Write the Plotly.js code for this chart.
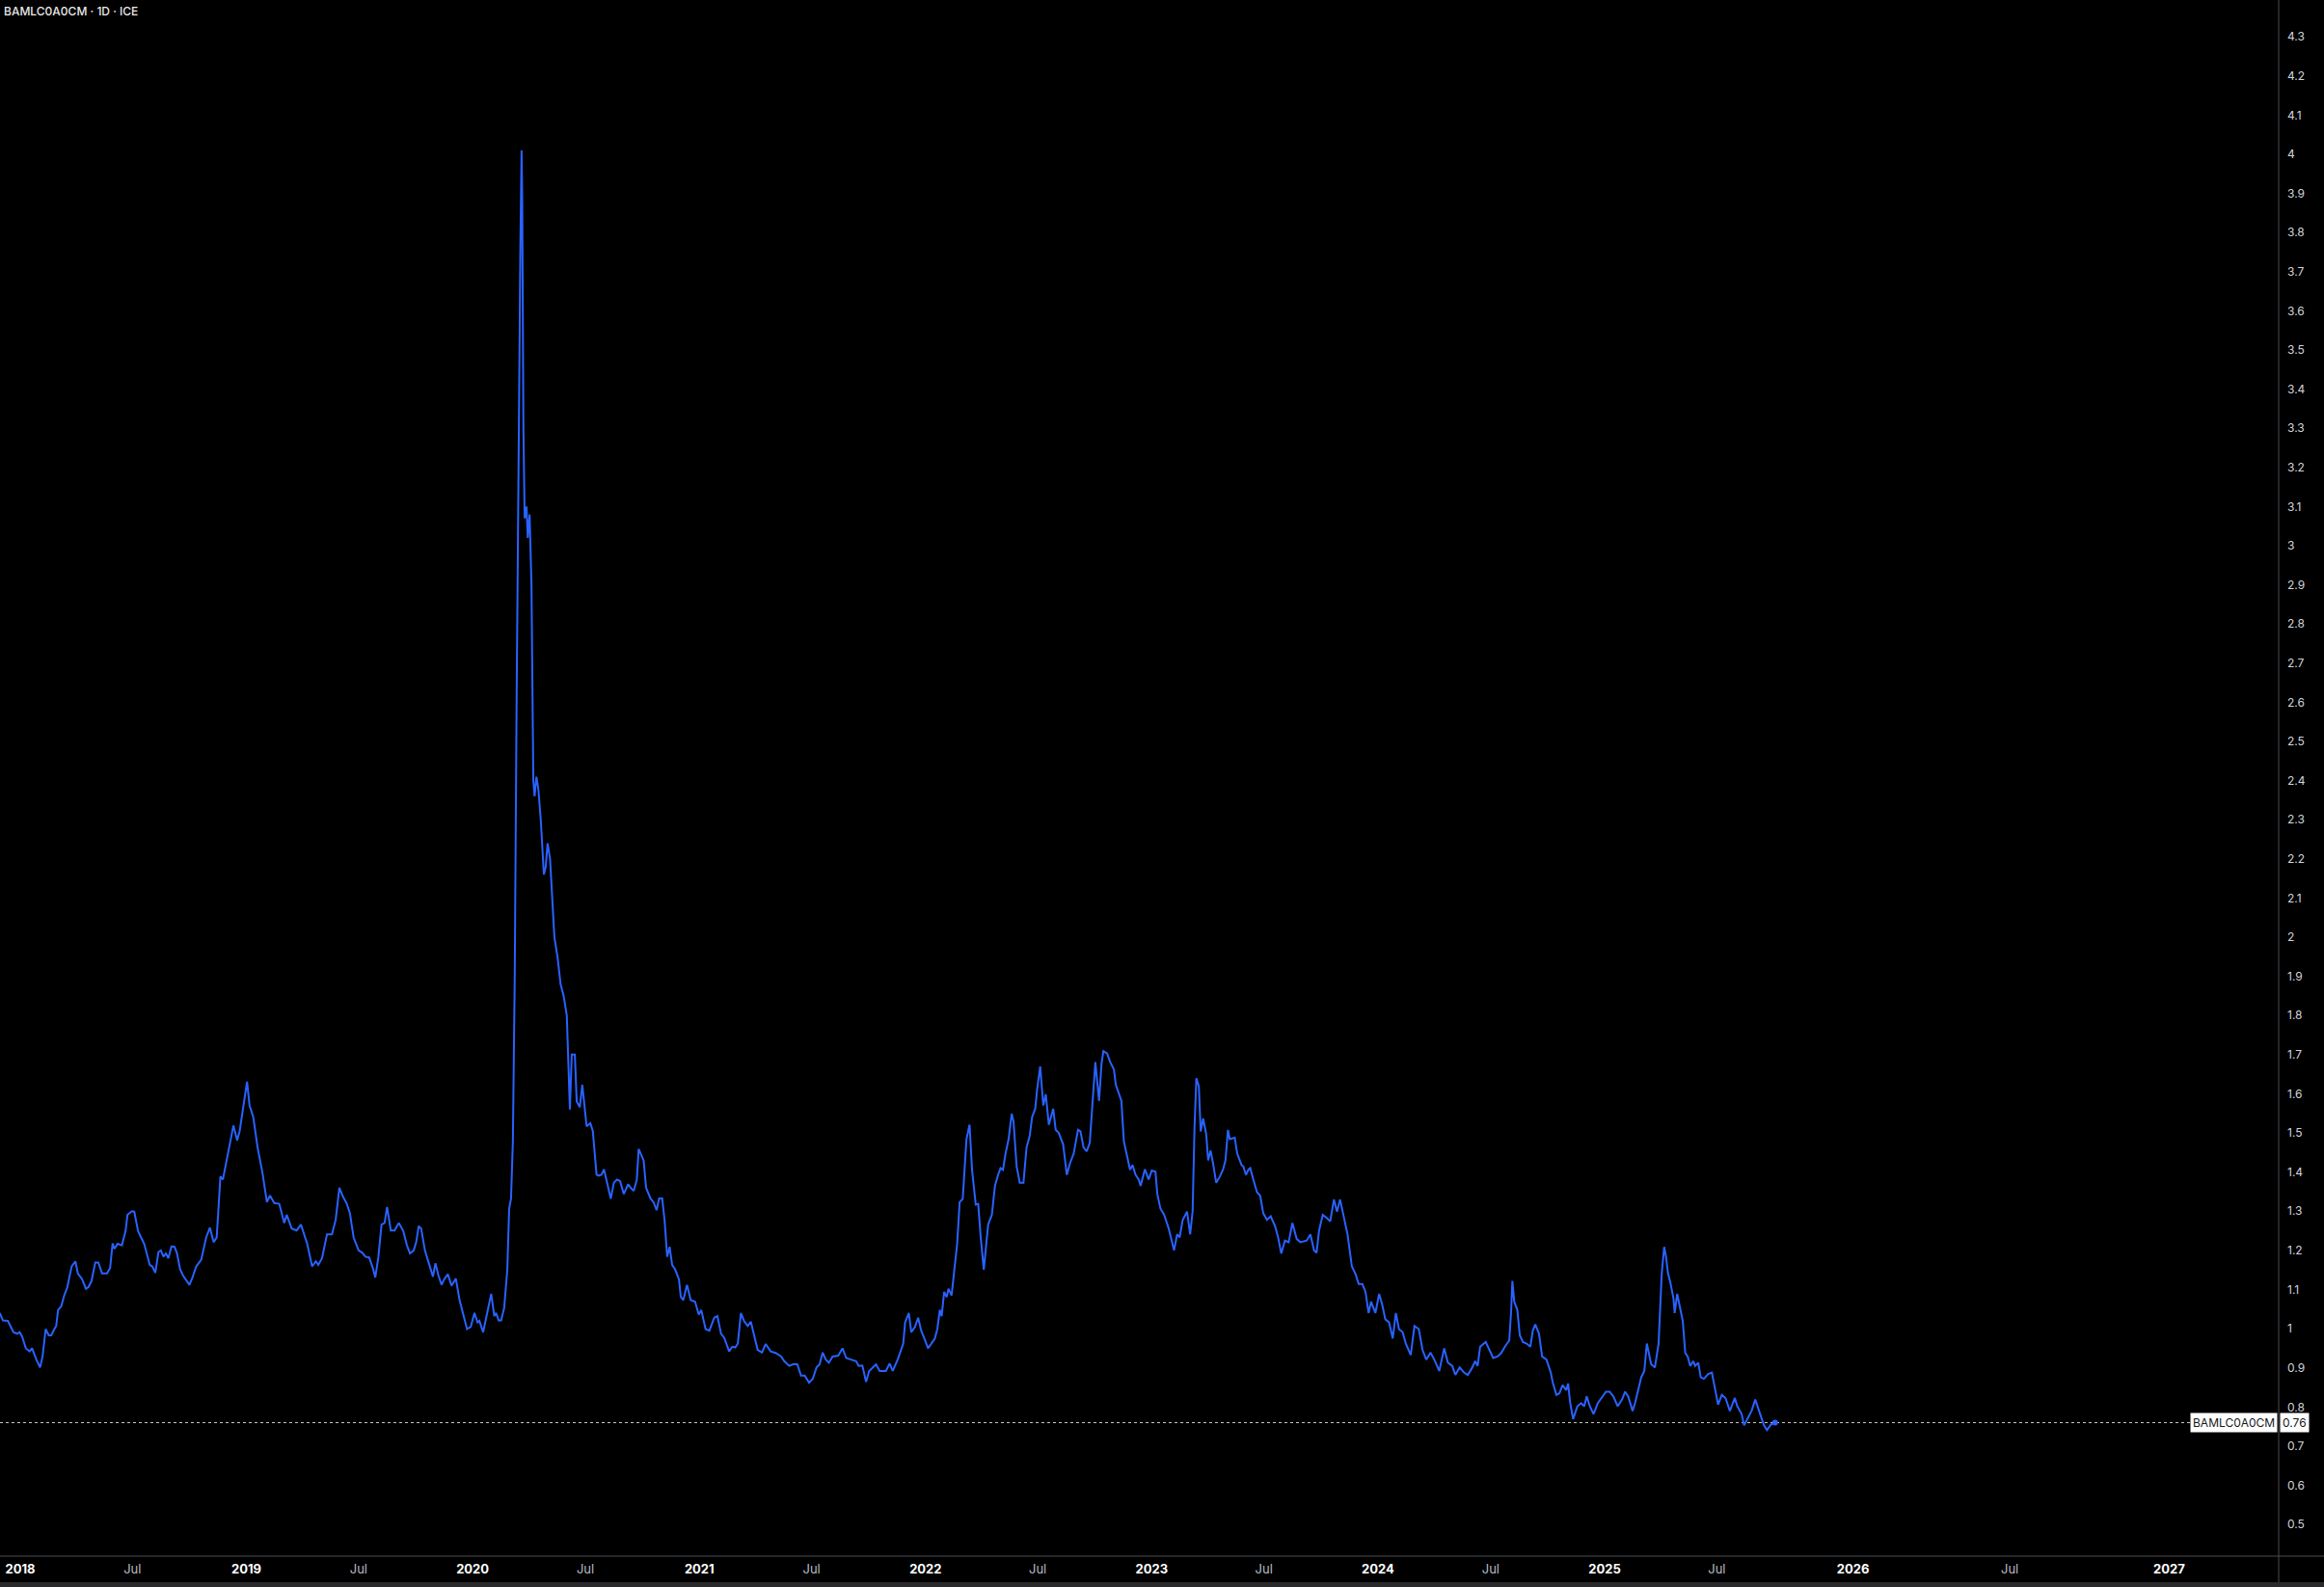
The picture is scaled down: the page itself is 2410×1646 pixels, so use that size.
<!DOCTYPE html>
<html><head><meta charset="utf-8">
<script src="https://cdn.plot.ly/plotly-3.0.1.min.js"></script>
<style>html,body{margin:0;padding:0;background:#000;overflow:hidden}#chart{width:2410px;height:1646px}</style>
</head><body><div id="chart"></div>
<script>
// ---------- DATA ----------
const seriesName = 'BAMLC0A0CM';
const chartTitle = 'BAMLC0A0CM · 1D · ICE';

const dates2018 = ['2017-11-29','2017-12-04','2017-12-12','2017-12-21','2017-12-27','2017-12-31','2018-01-04','2018-01-10','2018-01-16','2018-01-20','2018-01-27','2018-02-02','2018-02-06','2018-02-11','2018-02-16','2018-02-20','2018-02-25','2018-02-28','2018-03-03','2018-03-08','2018-03-13','2018-03-18','2018-03-20','2018-03-25','2018-03-31','2018-04-04','2018-04-11','2018-04-17','2018-04-21','2018-04-26','2018-05-02','2018-05-07','2018-05-13','2018-05-21','2018-05-26','2018-05-30','2018-06-02','2018-06-07','2018-06-14','2018-06-20','2018-06-23','2018-06-30','2018-07-04','2018-07-10','2018-07-15','2018-07-20','2018-07-29','2018-08-02','2018-08-07','2018-08-12','2018-08-16','2018-08-20','2018-08-24','2018-08-28','2018-09-02','2018-09-07','2018-09-11','2018-09-16','2018-09-21','2018-09-27','2018-10-01','2018-10-06','2018-10-12','2018-10-20','2018-10-28','2018-11-03','2018-11-09','2018-11-14','2018-11-20','2018-11-24','2018-11-30','2018-12-03','2018-12-11','2018-12-17','2018-12-21','2018-12-28'];
const values2018 = [1.040,1.021,1.020,0.991,0.987,0.991,0.980,0.950,0.942,0.950,0.921,0.901,0.929,0.999,0.983,0.983,0.999,1.007,1.048,1.057,1.085,1.106,1.122,1.159,1.172,1.141,1.126,1.102,1.106,1.122,1.169,1.169,1.141,1.141,1.155,1.218,1.204,1.217,1.213,1.250,1.291,1.300,1.299,1.250,1.233,1.217,1.163,1.159,1.143,1.196,1.200,1.184,1.192,1.180,1.210,1.209,1.192,1.151,1.135,1.122,1.112,1.131,1.159,1.176,1.233,1.258,1.221,1.233,1.389,1.381,1.430,1.459,1.519,1.481,1.504,1.578];

const dates2019 = ['2019-01-02','2019-01-06','2019-01-12','2019-01-19','2019-01-27','2019-02-03','2019-02-08','2019-02-15','2019-02-23','2019-03-03','2019-03-07','2019-03-15','2019-03-23','2019-03-30','2019-04-02','2019-04-09','2019-04-17','2019-04-23','2019-04-27','2019-05-03','2019-05-11','2019-05-19','2019-05-25','2019-05-31','2019-06-05','2019-06-12','2019-06-17','2019-06-23','2019-07-01','2019-07-07','2019-07-12','2019-07-18','2019-07-24','2019-07-28','2019-08-02','2019-08-07','2019-08-12','2019-08-16','2019-08-22','2019-08-28','2019-09-04','2019-09-11','2019-09-17','2019-09-22','2019-09-28','2019-10-02','2019-10-06','2019-10-10','2019-10-16','2019-10-22','2019-10-29','2019-11-02','2019-11-07','2019-11-12','2019-11-16','2019-11-22','2019-11-28','2019-12-05','2019-12-11','2019-12-17','2019-12-23','2019-12-29'];
const values2019 = [1.631,1.570,1.541,1.463,1.397,1.323,1.340,1.321,1.319,1.270,1.291,1.256,1.251,1.266,1.250,1.217,1.159,1.172,1.163,1.180,1.241,1.241,1.278,1.360,1.340,1.319,1.295,1.233,1.200,1.194,1.184,1.182,1.155,1.131,1.184,1.266,1.270,1.311,1.251,1.251,1.270,1.250,1.213,1.192,1.200,1.221,1.262,1.256,1.200,1.167,1.133,1.167,1.135,1.112,1.126,1.139,1.110,1.128,1.073,1.036,0.999,1.005];

const dates2020 = ['2020-01-04','2020-01-09','2020-01-12','2020-01-18','2020-01-25','2020-01-31','2020-02-05','2020-02-08','2020-02-12','2020-02-16','2020-02-21','2020-02-26','2020-02-29','2020-03-03','2020-03-06','2020-03-09','2020-03-12','2020-03-15','2020-03-18','2020-03-20','2020-03-21','2020-03-23','2020-03-25','2020-03-28','2020-03-30','2020-04-02','2020-04-05','2020-04-08','2020-04-10','2020-04-13','2020-04-16','2020-04-20','2020-04-25','2020-04-28','2020-05-01','2020-05-05','2020-05-08','2020-05-12','2020-05-17','2020-05-22','2020-05-27','2020-06-01','2020-06-06','2020-06-09','2020-06-14','2020-06-17','2020-06-22','2020-06-26','2020-07-03','2020-07-09','2020-07-13','2020-07-19','2020-07-22','2020-07-27','2020-07-31','2020-08-05','2020-08-11','2020-08-16','2020-08-21','2020-08-26','2020-09-01','2020-09-08','2020-09-12','2020-09-17','2020-09-22','2020-09-25','2020-10-03','2020-10-07','2020-10-14','2020-10-19','2020-10-24','2020-10-28','2020-11-02','2020-11-06','2020-11-10','2020-11-14','2020-11-18','2020-11-23','2020-11-29','2020-12-02','2020-12-06','2020-12-12','2020-12-18','2020-12-25','2020-12-31'];
const values2020 = [1.040,1.016,1.020,0.991,1.040,1.089,1.032,1.040,1.021,1.021,1.053,1.151,1.307,1.332,1.479,1.900,2.600,3.300,3.750,4.010,3.900,3.300,3.070,3.100,3.020,3.080,2.900,2.400,2.360,2.410,2.380,2.300,2.160,2.180,2.240,2.200,2.100,2.000,1.950,1.880,1.850,1.800,1.560,1.700,1.700,1.580,1.566,1.623,1.517,1.525,1.505,1.394,1.391,1.393,1.407,1.373,1.332,1.373,1.381,1.377,1.344,1.369,1.360,1.352,1.381,1.459,1.430,1.360,1.333,1.323,1.303,1.333,1.333,1.274,1.184,1.209,1.163,1.151,1.126,1.081,1.073,1.112,1.073,1.069,1.036];

const dates2021 = ['2021-01-04','2021-01-11','2021-01-17','2021-01-25','2021-01-30','2021-02-05','2021-02-10','2021-02-18','2021-02-23','2021-02-28','2021-03-04','2021-03-09','2021-03-14','2021-03-20','2021-03-25','2021-03-30','2021-04-05','2021-04-12','2021-04-18','2021-04-26','2021-05-04','2021-05-13','2021-05-18','2021-05-26','2021-06-01','2021-06-08','2021-06-14','2021-06-20','2021-06-27','2021-07-03','2021-07-09','2021-07-14','2021-07-19','2021-07-24','2021-07-29','2021-08-04','2021-08-13','2021-08-20','2021-08-26','2021-09-05','2021-09-11','2021-09-15','2021-09-21','2021-09-27','2021-10-02','2021-10-06','2021-10-13','2021-10-19','2021-10-29','2021-11-04','2021-11-09','2021-11-17','2021-11-22','2021-11-26','2021-11-29','2021-12-05','2021-12-09','2021-12-15','2021-12-20','2021-12-25','2021-12-30'];
const values2021 = [1.048,0.999,0.995,1.028,1.032,0.987,0.977,0.942,0.954,0.952,0.962,1.040,1.020,1.007,1.018,0.987,0.946,0.939,0.961,0.942,0.938,0.929,0.917,0.905,0.909,0.909,0.880,0.880,0.862,0.872,0.901,0.909,0.939,0.921,0.913,0.929,0.931,0.950,0.925,0.920,0.917,0.905,0.906,0.864,0.892,0.898,0.909,0.892,0.892,0.911,0.892,0.921,0.942,0.962,1.016,1.040,0.991,1.005,1.028,0.995,0.975];

const dates2022 = ['2022-01-05','2022-01-10','2022-01-16','2022-01-20','2022-01-24','2022-01-27','2022-01-31','2022-02-04','2022-02-07','2022-02-12','2022-02-17','2022-02-21','2022-02-25','2022-03-02','2022-03-08','2022-03-13','2022-03-17','2022-03-23','2022-03-27','2022-03-31','2022-04-05','2022-04-12','2022-04-18','2022-04-23','2022-04-28','2022-05-02','2022-05-06','2022-05-10','2022-05-15','2022-05-20','2022-05-23','2022-05-28','2022-06-02','2022-06-08','2022-06-13','2022-06-18','2022-06-22','2022-06-27','2022-06-30','2022-07-05','2022-07-10','2022-07-14','2022-07-19','2022-07-26','2022-07-30','2022-08-04','2022-08-11','2022-08-17','2022-08-22','2022-08-28','2022-09-04','2022-09-08','2022-09-13','2022-09-18','2022-09-23','2022-09-27','2022-10-02','2022-10-08','2022-10-12','2022-10-15','2022-10-21','2022-10-26','2022-11-01','2022-11-04','2022-11-09','2022-11-13','2022-11-17','2022-11-22','2022-11-27','2022-12-01','2022-12-06','2022-12-11','2022-12-14','2022-12-21','2022-12-27'];
const values2022 = [0.950,0.961,0.975,0.999,1.048,1.032,1.094,1.081,1.102,1.085,1.167,1.217,1.323,1.332,1.484,1.521,1.406,1.317,1.319,1.233,1.151,1.266,1.291,1.365,1.393,1.410,1.406,1.447,1.484,1.549,1.529,1.414,1.373,1.373,1.463,1.492,1.541,1.562,1.611,1.670,1.570,1.599,1.521,1.562,1.508,1.500,1.471,1.393,1.422,1.447,1.508,1.504,1.463,1.453,1.475,1.562,1.681,1.582,1.677,1.709,1.703,1.681,1.662,1.623,1.599,1.582,1.479,1.438,1.406,1.418,1.393,1.381,1.365,1.407,1.381];

const dates2023 = ['2023-01-01','2023-01-07','2023-01-10','2023-01-15','2023-01-21','2023-01-28','2023-02-01','2023-02-06','2023-02-11','2023-02-15','2023-02-20','2023-02-27','2023-03-04','2023-03-08','2023-03-11','2023-03-14','2023-03-18','2023-03-21','2023-03-25','2023-03-30','2023-04-02','2023-04-06','2023-04-10','2023-04-15','2023-04-21','2023-04-26','2023-04-30','2023-05-04','2023-05-07','2023-05-15','2023-05-19','2023-05-26','2023-05-29','2023-06-02','2023-06-06','2023-06-09','2023-06-14','2023-06-20','2023-06-25','2023-06-30','2023-07-06','2023-07-12','2023-07-19','2023-07-24','2023-07-29','2023-08-04','2023-08-10','2023-08-16','2023-08-23','2023-08-29','2023-09-08','2023-09-14','2023-09-20','2023-09-24','2023-09-28','2023-10-04','2023-10-11','2023-10-16','2023-10-22','2023-10-27','2023-11-01','2023-11-07','2023-11-13','2023-11-20','2023-11-26','2023-12-01','2023-12-07','2023-12-12','2023-12-17','2023-12-21','2023-12-28'];
const values2023 = [1.404,1.401,1.344,1.307,1.291,1.258,1.233,1.200,1.241,1.233,1.278,1.299,1.241,1.300,1.512,1.640,1.619,1.504,1.537,1.496,1.430,1.455,1.422,1.373,1.389,1.406,1.430,1.508,1.484,1.488,1.447,1.418,1.414,1.393,1.406,1.410,1.381,1.348,1.340,1.295,1.278,1.287,1.262,1.233,1.192,1.225,1.221,1.270,1.229,1.221,1.225,1.241,1.200,1.194,1.250,1.291,1.282,1.274,1.330,1.299,1.330,1.282,1.241,1.159,1.139,1.114,1.114,1.094,1.040,1.069,1.040];

const dates2024 = ['2024-01-03','2024-01-08','2024-01-13','2024-01-19','2024-01-25','2024-01-30','2024-02-04','2024-02-10','2024-02-15','2024-02-23','2024-02-29','2024-03-07','2024-03-13','2024-03-19','2024-03-26','2024-04-01','2024-04-09','2024-04-17','2024-04-23','2024-04-30','2024-05-05','2024-05-12','2024-05-19','2024-05-25','2024-05-31','2024-06-06','2024-06-10','2024-06-14','2024-06-23','2024-06-29','2024-07-05','2024-07-12','2024-07-18','2024-07-24','2024-07-31','2024-08-03','2024-08-05','2024-08-08','2024-08-13','2024-08-17','2024-08-22','2024-08-28','2024-09-03','2024-09-07','2024-09-11','2024-09-17','2024-09-22','2024-09-29','2024-10-06','2024-10-09','2024-10-15','2024-10-20','2024-10-25','2024-10-31','2024-11-03','2024-11-06','2024-11-11','2024-11-18','2024-11-24','2024-11-29','2024-12-03','2024-12-08','2024-12-14','2024-12-21','2024-12-27'];
const values2024 = [1.089,1.061,1.024,1.016,0.975,1.040,0.999,0.991,0.962,0.933,1.007,0.999,0.946,0.921,0.939,0.921,0.892,0.950,0.913,0.905,0.882,0.901,0.888,0.882,0.897,0.917,0.905,0.954,0.966,0.946,0.925,0.929,0.938,0.954,0.970,1.044,1.122,1.069,1.048,0.983,0.966,0.962,0.954,0.995,1.011,0.987,0.929,0.921,0.888,0.864,0.831,0.835,0.856,0.843,0.860,0.814,0.769,0.802,0.810,0.802,0.827,0.802,0.782,0.810,0.823];

const dates2025 = ['2025-01-03','2025-01-09','2025-01-15','2025-01-22','2025-01-29','2025-02-03','2025-02-08','2025-02-15','2025-02-19','2025-02-24','2025-03-01','2025-03-06','2025-03-10','2025-03-17','2025-03-23','2025-03-29','2025-04-03','2025-04-07','2025-04-10','2025-04-13','2025-04-17','2025-04-22','2025-04-24','2025-04-28','2025-05-03','2025-05-07','2025-05-11','2025-05-15','2025-05-19','2025-05-24','2025-05-27','2025-06-01','2025-06-05','2025-06-10','2025-06-17','2025-06-23','2025-06-28','2025-07-03','2025-07-09','2025-07-15','2025-07-22','2025-07-30','2025-08-03','2025-08-10','2025-08-14','2025-08-19','2025-08-26','2025-09-01','2025-09-06','2025-09-10','2025-09-15','2025-09-20','2025-09-26','2025-10-03'];
const values2025 = [0.839,0.839,0.827,0.802,0.819,0.839,0.827,0.790,0.810,0.843,0.876,0.892,0.962,0.909,0.901,0.962,1.139,1.209,1.184,1.143,1.118,1.077,1.040,1.089,1.048,1.020,0.938,0.929,0.905,0.917,0.905,0.913,0.876,0.872,0.884,0.888,0.847,0.806,0.831,0.823,0.790,0.823,0.802,0.782,0.753,0.769,0.790,0.819,0.794,0.773,0.753,0.741,0.755,0.760];

// x-axis tick labels
const tickDatesPast = ['2018-01-01','2018-07-01','2019-01-01','2019-07-01','2020-01-01','2020-07-01','2021-01-01','2021-07-01','2022-01-01','2022-07-01','2023-01-01','2023-07-01','2024-01-01','2024-07-01','2025-01-01','2025-07-01'];
const tickLabelsPast = ['2018','Jul','2019','Jul','2020','Jul','2021','Jul','2022','Jul','2023','Jul','2024','Jul','2025','Jul'];
const tickDatesFuture = ['2026-01-01','2026-07-01','2027-01-01'];
const tickLabelsFuture = ['2026','Jul','2027'];

// visible window
const viewStart = '2017-11-29 07:00';
const viewEnd = '2027-05-07 14:00';
const yMin = 0.419, yMax = 4.394;

// ---------- BUILD ----------
const dates = [].concat(dates2018, dates2019, dates2020, dates2021, dates2022, dates2023, dates2024, dates2025);
const values = [].concat(values2018, values2019, values2020, values2021, values2022, values2023, values2024, values2025);
const lastDate = dates[dates.length - 1];
const lastVal = values[values.length - 1];

const fmtTick = t => /^\d{4}$/.test(t) ? '<b>' + t + '</b>' : '<span style="color:#b8bbc4">' + t + '</span>';

const LINE = '#2962ff';
const AXIS = '#4a4c52';
const split = 0.779;

const traces = [
  {x: dates, y: values, type: 'scatter', mode: 'lines', line: {color: LINE, width: 2}, hoverinfo: 'skip', xaxis: 'x', yaxis: 'y'},
  // last-value dot, placed on the "future" axis whose range starts at the last bar
  {x: [lastDate], y: [lastVal], type: 'scatter', mode: 'markers', marker: {color: LINE, size: 6}, cliponaxis: false, hoverinfo: 'skip', xaxis: 'x2', yaxis: 'y'}
];

const baseX = {type: 'date', showgrid: false, zeroline: false, showline: false, ticks: '', anchor: 'y', fixedrange: true,
  tickfont: {family: 'Inter, Roboto, sans-serif', size: 13, color: '#ffffff'}, ticklabelstandoff: 4, tickmode: 'array'};

const layout = {
  width: 2410, height: 1646,
  paper_bgcolor: '#000000', plot_bgcolor: '#000000',
  margin: {l: 0, r: 47, t: 0, b: 32, pad: 0},
  showlegend: false,
  font: {family: 'Inter, Roboto, sans-serif', size: 12, color: '#d1d4dc'},
  xaxis: Object.assign({}, baseX, {domain: [0, split], range: [viewStart, lastDate], tickvals: tickDatesPast, ticktext: tickLabelsPast.map(fmtTick)}),
  xaxis2: Object.assign({}, baseX, {domain: [split, 1], range: [lastDate, viewEnd], tickvals: tickDatesFuture, ticktext: tickLabelsFuture.map(fmtTick)}),
  yaxis: {range: [yMin, yMax], tick0: 0, dtick: 0.1, side: 'right', anchor: 'free', position: 1,
    showgrid: false, zeroline: false, showline: false, ticks: '', fixedrange: true,
    tickfont: {family: 'Inter, Roboto, sans-serif', size: 12, color: '#d1d4dc'}, ticklabelstandoff: 8},
  shapes: [
    {type: 'line', xref: 'paper', yref: 'y', x0: 0, x1: 1, y0: lastVal, y1: lastVal, line: {color: '#c8c8c8', width: 1, dash: 'dot'}, layer: 'below'},
    {type: 'line', xref: 'paper', yref: 'paper', x0: 0, x1: 2410/2363, y0: 0, y1: 0, line: {color: AXIS, width: 1}},
    {type: 'line', xref: 'paper', yref: 'paper', x0: 1, x1: 1, y0: -27/1614, y1: 1, line: {color: AXIS, width: 1}},
    {type: 'rect', xref: 'paper', yref: 'paper', x0: 0, x1: 2410/2363, y0: -32/1614, y1: -27/1614, fillcolor: '#2a2a2c', line: {width: 0}}
  ],
  annotations: [
    {xref: 'paper', yref: 'paper', x: 0, y: 1, xanchor: 'left', yanchor: 'top', xshift: 2, yshift: -2, showarrow: false,
      text: chartTitle, font: {family: 'Inter, Roboto, sans-serif', size: 12, color: '#e8e8e8', weight: 500}},
    {xref: 'paper', yref: 'y', x: 1, y: lastVal, xanchor: 'right', yanchor: 'middle', xshift: -1, showarrow: false,
      text: seriesName, bgcolor: '#ffffff', borderpad: 2, font: {family: 'Inter, Roboto, sans-serif', size: 12, color: '#131722'}},
    {xref: 'paper', yref: 'y', x: 1, y: lastVal, xanchor: 'left', yanchor: 'middle', xshift: 1, showarrow: false,
      text: lastVal.toFixed(2), bgcolor: '#ffffff', borderpad: 2, font: {family: 'Inter, Roboto, sans-serif', size: 12, color: '#131722'}}
  ]
};

Plotly.newPlot('chart', traces, layout, {staticPlot: true, displayModeBar: false});
</script>
</body></html>
